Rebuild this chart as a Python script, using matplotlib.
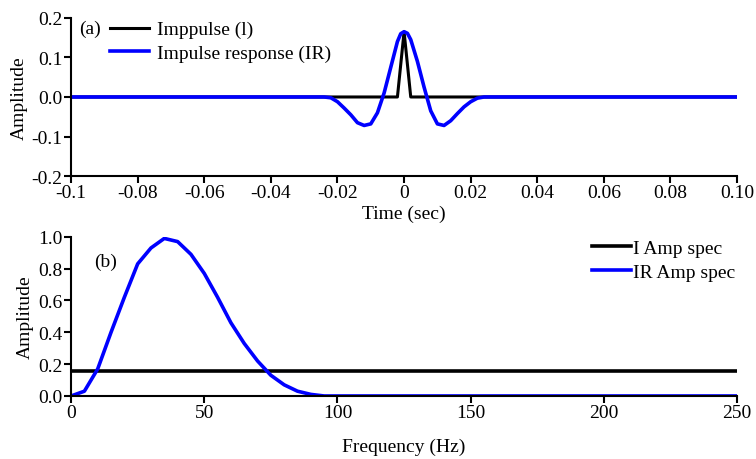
import matplotlib
matplotlib.use("Agg")
import matplotlib.pyplot as plt

plt.rcParams['font.family'] = ['Liberation Serif', 'DejaVu Serif']
plt.rcParams['axes.unicode_minus'] = False

# ---- Data: top panel (time domain) ----
impulse_t = [-0.1, -0.002, 0.0, 0.002, 0.1]
impulse_amp = [0.0, 0.0, 0.165, 0.0, 0.0]

ir_t = [-0.1, -0.024, -0.022, -0.020, -0.018, -0.016, -0.014, -0.012, -0.010,
        -0.008, -0.006, -0.004, -0.002, -0.001, 0.0, 0.001, 0.002, 0.004, 0.006, 0.008,
        0.010, 0.012, 0.014, 0.016, 0.018, 0.020, 0.022, 0.024, 0.1]
ir_amp = [0.0, 0.0, -0.002, -0.012, -0.028, -0.045, -0.065, -0.072, -0.068,
          -0.040, 0.010, 0.075, 0.140, 0.160, 0.165, 0.161, 0.145, 0.090, 0.025, -0.035,
          -0.068, -0.072, -0.060, -0.042, -0.025, -0.012, -0.003, 0.0, 0.0]

time_ticks = [-0.1, -0.08, -0.06, -0.04, -0.02, 0.0, 0.02, 0.04, 0.06, 0.08, 0.10]
time_labels = ["-0.1", "-0.08", "-0.06", "-0.04", "-0.02", "0", "0.02", "0.04", "0.06", "0.08", "0.10"]

# ---- Data: bottom panel (frequency domain) ----
i_freq = [0, 250]
i_spec = [0.16, 0.16]

ir_freq = [0, 5, 10, 15, 20, 25, 30, 35, 40, 45, 50, 55, 60, 65, 70, 75, 80, 85, 90, 95, 250]
ir_spec = [0.0, 0.03, 0.17, 0.40, 0.62, 0.83, 0.93, 0.99, 0.97, 0.89, 0.77, 0.62,
           0.46, 0.33, 0.22, 0.13, 0.07, 0.03, 0.01, 0.0, 0.0]

freq_ticks = [0, 50, 100, 150, 200, 250]

fig = plt.figure(figsize=(7.56, 4.60), dpi=100)
ax1 = fig.add_axes([0.094, 0.615, 0.881, 0.344])
ax2 = fig.add_axes([0.094, 0.137, 0.881, 0.346])

fs = 14
for ax in (ax1, ax2):
    ax.spines['top'].set_visible(False)
    ax.spines['right'].set_visible(False)
    ax.spines['left'].set_linewidth(1.5)
    ax.spines['bottom'].set_linewidth(1.5)
    ax.tick_params(direction='out', length=5, width=1.5, labelsize=fs, pad=1)

ax1.plot(impulse_t, impulse_amp, color='black', lw=2.2, label='Imppulse (l)')
ax1.plot(ir_t, ir_amp, color='#0000ff', lw=2.6, label='Impulse response (IR)')
ax1.set_xlim(-0.1, 0.1)
ax1.set_ylim(-0.2, 0.2)
ax1.set_xticks(time_ticks)
ax1.set_xticklabels(time_labels)
ax1.set_yticks([-0.2, -0.1, 0.0, 0.1, 0.2])
ax1.set_yticklabels(["-0.2", "-0.1", "0.0", "0.1", "0.2"])
ax1.set_xlabel('Time (sec)', fontsize=fs, labelpad=2)
ax1.set_ylabel('Amplitude', fontsize=fs, labelpad=3)
ax1.text(0.012, 0.99, '(a)', transform=ax1.transAxes, fontsize=fs, va='top', ha='left')
ax1.legend(loc='upper left', bbox_to_anchor=(0.035, 1.08), frameon=False, fontsize=fs,
           handlelength=2.0, handletextpad=0.4, labelspacing=0.3, borderpad=0.3)

ax2.plot(i_freq, i_spec, color='black', lw=2.6, label='I Amp spec')
ax2.plot(ir_freq, ir_spec, color='#0000ff', lw=2.6, label='IR Amp spec')
ax2.set_xlim(0, 250)
ax2.set_ylim(0, 1.0)
ax2.set_xticks(freq_ticks)
ax2.set_yticks([0.0, 0.2, 0.4, 0.6, 0.8, 1.0])
ax2.set_yticklabels(["0.0", "0.2", "0.4", "0.6", "0.8", "1.0"])
ax2.set_xlabel('Frequency (Hz)', fontsize=fs, labelpad=12)
ax2.set_ylabel('Amplitude', fontsize=fs, labelpad=3)
ax2.text(0.035, 0.90, '(b)', transform=ax2.transAxes, fontsize=fs, va='top', ha='left')
ax2.legend(loc='upper right', bbox_to_anchor=(1.02, 1.08), frameon=False, fontsize=fs,
           handlelength=2.0, handletextpad=0.1, labelspacing=0.3, borderpad=0.3)

fig.savefig('out.png', dpi=100)
